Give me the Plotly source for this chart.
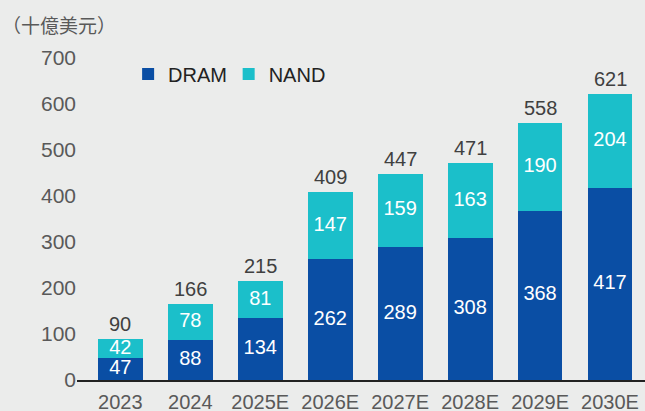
import plotly.graph_objects as go

categories = ["2023", "2024", "2025E", "2026E", "2027E", "2028E", "2029E", "2030E"]
dram = [47, 88, 134, 262, 289, 308, 368, 417]
nand = [42, 78, 81, 147, 159, 163, 190, 204]
totals = [90, 166, 215, 409, 447, 471, 558, 621]
y_ticks = [0, 100, 200, 300, 400, 500, 600, 700]

DRAM_C = "#0a4ea4"
NAND_C = "#1bbfca"
BG = "#ebeceb"
FONT = "Liberation Sans, Arial, sans-serif"

fig = go.Figure()
fig.add_trace(go.Bar(x=categories, y=dram, name="DRAM", marker=dict(color=DRAM_C, line=dict(width=0)),
                     width=0.64, legend="legend"))
fig.add_trace(go.Bar(x=categories, y=nand, name="NAND", marker=dict(color=NAND_C, line=dict(width=0)),
                     width=0.64, legend="legend2"))

fig.add_trace(go.Scatter(x=categories, y=[d / 2 for d in dram], mode="text",
                         text=[str(v) for v in dram], textposition="middle center",
                         textfont=dict(color="white", size=20, family=FONT),
                         showlegend=False, hoverinfo="skip"))
fig.add_trace(go.Scatter(x=categories, y=[d + n / 2 for d, n in zip(dram, nand)], mode="text",
                         text=[str(v) for v in nand], textposition="middle center",
                         textfont=dict(color="white", size=20, family=FONT),
                         showlegend=False, hoverinfo="skip"))

annotations = [dict(text="（十億美元）", xref="paper", yref="paper", x=-0.136, y=1.0,
                    xanchor="left", yanchor="bottom", yshift=18, showarrow=False,
                    font=dict(family="Noto Sans CJK TC", size=19, color="#595959"))]
for i, (d, n, t) in enumerate(zip(dram, nand, totals)):
    annotations.append(dict(x=i, y=d + n, text=str(t), xref="x", yref="y", showarrow=False,
                            yanchor="bottom", yshift=2,
                            font=dict(color="#404040", size=20, family=FONT)))

leg_common = dict(orientation="h", yanchor="middle", y=0.95, xanchor="left",
                  font=dict(size=20, color="#222222", family=FONT),
                  bgcolor="rgba(0,0,0,0)", itemwidth=30)

fig.update_layout(
    width=645, height=411, autosize=False,
    barmode="stack",
    paper_bgcolor=BG, plot_bgcolor=BG,
    margin=dict(l=77, r=0, t=58, b=31, autoexpand=False),
    font=dict(family=FONT, size=20, color="#595959"),
    showlegend=True,
    legend=dict(x=0.09, **leg_common),
    legend2=dict(x=0.267, **leg_common),
    annotations=annotations,
)
fig.update_xaxes(type="category", range=[-0.62, 7.5], showline=True, linecolor="#222222", linewidth=1.5,
                 ticks="", showgrid=False, ticklabelstandoff=3, automargin=False,
                 tickfont=dict(size=20, color="#595959"))
fig.update_yaxes(range=[0, 700], tickvals=y_ticks, showgrid=False, zeroline=False, automargin=False,
                 showline=False, ticks="", tickfont=dict(size=21, color="#595959"))

fig.write_html("out.html", config={"displayModeBar": False},
               post_script="document.body.style.margin='0';document.body.style.overflow='hidden';")
